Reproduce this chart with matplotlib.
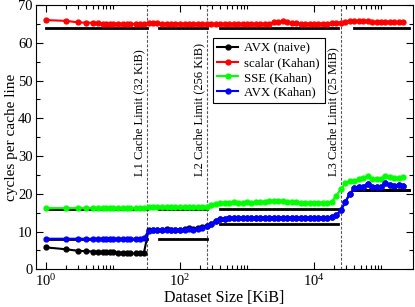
import matplotlib
matplotlib.use('Agg')
import matplotlib.pyplot as plt
from matplotlib.ticker import FixedLocator, NullFormatter, LogFormatterMathtext

plt.rcParams['font.family'] = ['Liberation Serif', 'DejaVu Serif']
plt.rcParams['mathtext.fontset'] = 'stix'

# dataset sizes in KiB
size_kib = [1, 2, 3, 4, 5, 6, 7, 8, 9, 10,
            12, 14, 16, 18, 22, 25, 29,
            34, 40, 46, 54, 63, 73, 85,
            100, 117, 136, 158, 185, 215, 251, 293, 341, 398, 464, 541, 631, 736, 858,
            1000, 1166, 1359, 1585, 1848, 2154, 2512, 2929, 3415, 3981, 4642, 5412, 6310, 7356, 8577,
            10000, 11659, 13594, 15849, 18478, 21544, 25119, 29286, 34145, 39811, 46416, 54117, 63096, 73564, 85770,
            100000, 116591, 135936, 158489, 184785, 215443]

scalar_kahan = [66.0, 65.8, 65.4, 65.3, 65.3, 65.2, 65.1, 65.1, 65.1, 65.1,
                65.0, 65.0, 65.0, 65.0, 65.0, 65.0, 65.0,
                65.3, 65.2, 65.2, 65.1, 65.1, 65.1, 65.1,
                65.1, 65.0, 65.0, 65.0, 65.0, 65.0, 65.0, 65.0, 65.0, 65.0, 65.0, 65.0, 65.0, 65.0, 65.0,
                65.0, 65.0, 65.0, 65.0, 65.0, 65.0, 65.4, 65.6, 65.7, 65.5, 65.3, 65.2, 65.1, 65.1, 65.0,
                65.1, 65.0, 65.1, 65.1, 65.2, 65.2, 65.3, 65.6, 65.8, 65.7, 65.7, 65.8, 65.7, 65.5, 65.5,
                65.4, 65.4, 65.4, 65.4, 65.4, 65.4]

sse_kahan = [16.2, 16.2, 16.2, 16.2, 16.2, 16.2, 16.2, 16.2, 16.2, 16.2,
             16.2, 16.2, 16.2, 16.2, 16.2, 16.2, 16.3,
             16.5, 16.5, 16.4, 16.4, 16.4, 16.4, 16.4,
             16.4, 16.4, 16.4, 16.4, 16.5, 16.5, 16.6, 17.0, 17.4, 17.6, 17.6, 17.6, 17.7, 17.6, 17.6,
             17.7, 17.6, 17.7, 17.8, 17.9, 18.0, 18.2, 18.2, 18.0, 17.8, 17.7, 17.7, 17.6, 17.6, 17.6,
             17.6, 17.6, 17.6, 17.6, 17.9, 19.5, 21.2, 22.8, 23.3, 23.5, 23.8, 24.1, 24.7, 24.0, 23.8,
             24.0, 24.8, 24.4, 24.2, 24.3, 24.4]

avx_kahan = [8.1, 8.1, 8.1, 8.1, 8.1, 8.1, 8.1, 8.1, 8.1, 8.1,
             8.1, 8.1, 8.1, 8.1, 8.1, 8.1, 8.2,
             10.2, 10.3, 10.4, 10.5, 10.4, 10.4, 10.4,
             10.4, 10.5, 10.6, 10.5, 10.7, 11.0, 11.4, 12.0, 12.8, 13.2, 13.4, 13.5, 13.6, 13.6, 13.6,
             13.6, 13.6, 13.6, 13.7, 13.7, 13.7, 13.7, 13.7, 13.7, 13.6, 13.6, 13.6, 13.6, 13.6, 13.6,
             13.6, 13.6, 13.6, 13.7, 13.9, 14.3, 15.6, 17.8, 20.0, 21.4, 21.7, 21.8, 22.7, 21.8, 21.7,
             21.8, 22.8, 22.4, 22.1, 22.2, 22.1]

avx_naive = [5.8, 5.3, 4.9, 4.8, 4.7, 4.6, 4.6, 4.5, 4.5, 4.5,
             4.4, 4.3, 4.3, 4.2, 4.2, 4.2, 4.4,
             10.4, 10.4, 10.4, 10.5, 10.8, 10.5, 10.4,
             10.5, 10.7, 10.9, 10.8, 10.9, 11.1, 11.5, 12.0, 12.8, 13.2, 13.4, 13.5, 13.6, 13.6, 13.6,
             13.6, 13.6, 13.6, 13.7, 13.7, 13.7, 13.7, 13.7, 13.7, 13.6, 13.6, 13.6, 13.6, 13.6, 13.6,
             13.6, 13.6, 13.6, 13.7, 13.9, 14.3, 15.6, 17.8, 20.0, 21.4, 21.7, 21.8, 22.7, 21.8, 21.7,
             21.8, 22.8, 22.4, 22.1, 22.2, 22.1]

# theoretical bounds, one per cache level region
bound_ranges = [(1, 32), (48, 256), (400, 23000), (40000, 262000)]
scalar_bound = [64, 64, 64, 64]
sse_bound = [16, 16, 16, 21]
avx_bound = [8, 8, 12, 21]

cache_limits = [32, 256, 25600]
cache_labels = ['L1 Cache Limit (32 KiB)', 'L2 Cache Limit (256 KiB)', 'L3 Cache Limit (25 MiB)']

fig = plt.figure(figsize=(4.15, 3.07), dpi=100)
ax = fig.add_axes([36 / 415, 1 - 269.3 / 307, 377 / 415, 264.3 / 307])

for xl, lab in zip(cache_limits, cache_labels):
    ax.axvline(xl, color='#555555', lw=0.8, ls=(0, (2.5, 1.5)), zorder=1)
    ax.text(xl / 1.07, 24.8, lab, rotation=90, ha='right', va='bottom', fontsize=9)

for bounds in (scalar_bound, sse_bound, avx_bound):
    for (x0, x1), b in zip(bound_ranges, bounds):
        ax.plot([x0, x1], [b, b], color='black', lw=2, zorder=2)

style = dict(marker='o', ms=3.5, lw=1.5, zorder=3)
ax.plot(size_kib, avx_naive, color='black', label='AVX (naive)', **style)
ax.plot(size_kib, scalar_kahan, color='#ff0000', label='scalar (Kahan)', **style)
ax.plot(size_kib, sse_kahan, color='#00ff00', label='SSE (Kahan)', **style)
ax.plot(size_kib, avx_kahan, color='#0000ff', label='AVX (Kahan)', **style)

ax.set_xscale('log')
ax.set_xlim(0.71, 3.0e5)
ax.set_ylim(0, 70)

ax.xaxis.set_major_locator(FixedLocator([1, 100, 10000]))
ax.xaxis.set_major_formatter(LogFormatterMathtext())
minors = []
for dec in (1, 100, 10000):
    minors += [m * dec for m in range(2, 11)]
ax.xaxis.set_minor_locator(FixedLocator(minors))
ax.xaxis.set_minor_formatter(NullFormatter())
ax.yaxis.set_major_locator(FixedLocator(range(0, 71, 10)))
ax.yaxis.set_minor_locator(FixedLocator(range(5, 70, 10)))

ax.tick_params(which='both', direction='in', top=True, right=True, labelsize=10.5)
ax.tick_params(which='major', length=5, width=0.8, pad=2.5)
ax.tick_params(which='minor', length=3, width=0.8)

ax.set_xlabel('Dataset Size [KiB]', fontsize=11.5, labelpad=1)
ax.set_ylabel('cycles per cache line', fontsize=11, labelpad=0)

leg = ax.legend(loc='upper left', bbox_to_anchor=(0.469, 0.875), borderaxespad=0,
                fontsize=9.3, fancybox=False, edgecolor='black', framealpha=1,
                handlelength=1.6, handletextpad=0.5, labelspacing=0.2, borderpad=0.35)
leg.get_frame().set_linewidth(0.8)

fig.savefig('out.png', dpi=100)
